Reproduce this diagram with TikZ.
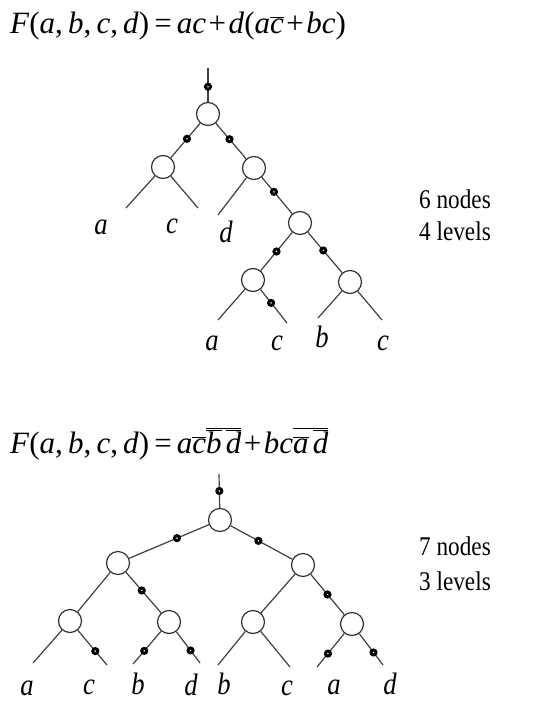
\documentclass[tikz,border=0pt]{standalone}
\usepackage{fontspec}
\setmainfont{Liberation Serif}
\newfontfamily\narrowfont[FakeStretch=0.86]{Liberation Serif}
\newcommand{\ov}[1]{$\overline{\hbox{#1}}$}
\newcommand{\iv}[1]{\textit{#1}}
\newcommand{\pl}{\kern2.5pt+\kern2.5pt}
\newcommand{\eq}{\,=\,}
\begin{document}
\begin{tikzpicture}[x=1pt,y=-1pt,
  gate/.style={circle,draw=black!80,line width=1.2pt,minimum size=23pt,inner sep=0pt,fill=white},
  bub/.style={circle,draw=black,line width=3pt,fill=white,minimum size=5pt,inner sep=0pt},
  wire/.style={draw=black!75,line width=1.2pt},
  lab/.style={anchor=base,font=\fontsize{31}{31}\narrowfont\itshape,inner sep=0pt},
  formula/.style={anchor=base west,font=\fontsize{31}{31}\selectfont,inner sep=0pt},
  info/.style={anchor=base west,font=\fontsize{27}{27}\narrowfont,inner sep=0pt}]
\useasboundingbox[fill=white] (0,0) rectangle (537,702);

% ---------- formula 1 ----------
\node[formula] (f1) at (10,33) {\iv{F}(\iv{a},\,\iv{b},\,\iv{c},\,\iv{d})\eq\iv{ac}\pl\iv{d}(\iv{a}\ov{\iv{c}}\pl\iv{bc})};

% ---------- tree 1 ----------
\coordinate (t1in) at (208,68);
\node[gate] (r1) at (208,114) {};
\node[gate] (a1) at (163,167) {};
\node[gate] (b1) at (254,168) {};
\node[gate] (c1) at (300,223) {};
\node[gate] (d1) at (253,280) {};
\node[gate] (e1) at (350,282) {};
\coordinate (a1l) at (126,208);
\coordinate (a1r) at (198,208);
\coordinate (b1l) at (218,215);
\coordinate (d1l) at (218,320);
\coordinate (d1r) at (287,323);
\coordinate (e1l) at (318,318);
\coordinate (e1r) at (382,320);

\draw[wire] (t1in) -- node[bub,pos=0.55]{} (r1);
\draw[wire] (r1) -- node[bub,pos=0.45]{} (a1);
\draw[wire] (r1) -- node[bub,pos=0.45]{} (b1);
\draw[wire] (a1) -- (a1l);
\draw[wire] (a1) -- (a1r);
\draw[wire] (b1) -- (b1l);
\draw[wire] (b1) -- node[bub,pos=0.4]{} (c1);
\draw[wire] (c1) -- node[bub,pos=0.5]{} (d1);
\draw[wire] (c1) -- node[bub,pos=0.45]{} (e1);
\draw[wire] (d1) -- (d1l);
\draw[wire] (d1) -- node[bub,pos=0.4]{} (d1r);
\draw[wire] (e1) -- (e1l);
\draw[wire] (e1) -- (e1r);

\node[lab] (la1) at (101,234) {a};
\node[lab] (lc1) at (172,233) {c};
\node[lab] (ld1) at (226,242) {d};
\node[lab] (la2) at (212,350) {a};
\node[lab] (lc2) at (277,350) {c};
\node[lab] (lb2) at (322,347) {b};
\node[lab] (lc3) at (383,350) {c};

\node[info] (n1) at (419,208) {6 nodes};
\node[info] (v1) at (419,240) {4 levels};

% ---------- formula 2 ----------
\node[formula] (f2) at (10,453) {\iv{F}(\iv{a},\,\iv{b},\,\iv{c},\,\iv{d})\eq\iv{a}\ov{\iv{c}}$\overline{\overline{\hbox{\iv{b}}}\,\overline{\hbox{\iv{d}}}}$\pl\iv{bc}$\overline{\overline{\hbox{\iv{a}}}\,\overline{\hbox{\iv{d}}}}$};

% ---------- tree 2 ----------
\coordinate (t2in) at (219,474);
\node[gate] (r2) at (220,520) {};
\node[gate] (l2) at (118,563) {};
\node[gate] (q2) at (303,565) {};
\node[gate] (ll2) at (70,621) {};
\node[gate] (lr2) at (169,622) {};
\node[gate] (ql2) at (253,622) {};
\node[gate] (qr2) at (352,624) {};
\coordinate (ll2a) at (33,663);
\coordinate (ll2b) at (107,665);
\coordinate (lr2a) at (133,664);
\coordinate (lr2b) at (200,663);
\coordinate (ql2a) at (218,665);
\coordinate (ql2b) at (290,667);
\coordinate (qr2a) at (317,667);
\coordinate (qr2b) at (383,665);

\draw[wire] (t2in) -- node[bub,pos=0.5]{} (r2);
\draw[wire] (r2) -- node[bub,pos=0.4]{} (l2);
\draw[wire] (r2) -- node[bub,pos=0.45]{} (q2);
\draw[wire] (l2) -- (ll2);
\draw[wire] (l2) -- node[bub,pos=0.45]{} (lr2);
\draw[wire] (q2) -- (ql2);
\draw[wire] (q2) -- node[bub,pos=0.5]{} (qr2);
\draw[wire] (ll2) -- (ll2a);
\draw[wire] (ll2) -- node[bub,pos=0.6]{} (ll2b);
\draw[wire] (lr2) -- node[bub,pos=0.6]{} (lr2a);
\draw[wire] (lr2) -- node[bub,pos=0.6]{} (lr2b);
\draw[wire] (ql2) -- (ql2a);
\draw[wire] (ql2) -- (ql2b);
\draw[wire] (qr2) -- node[bub,pos=0.6]{} (qr2a);
\draw[wire] (qr2) -- node[bub,pos=0.6]{} (qr2b);

\node[lab] (m1) at (27,695) {a};
\node[lab] (m2) at (89,694) {c};
\node[lab] (m3) at (138,694) {b};
\node[lab] (m4) at (191,695) {d};
\node[lab] (m5) at (224,694) {b};
\node[lab] (m6) at (287,695) {c};
\node[lab] (m7) at (334,694) {a};
\node[lab] (m8) at (390,694) {d};

\node[info] (n2) at (419,555) {7 nodes};
\node[info] (v2) at (419,590) {3 levels};
\end{tikzpicture}
\end{document}
